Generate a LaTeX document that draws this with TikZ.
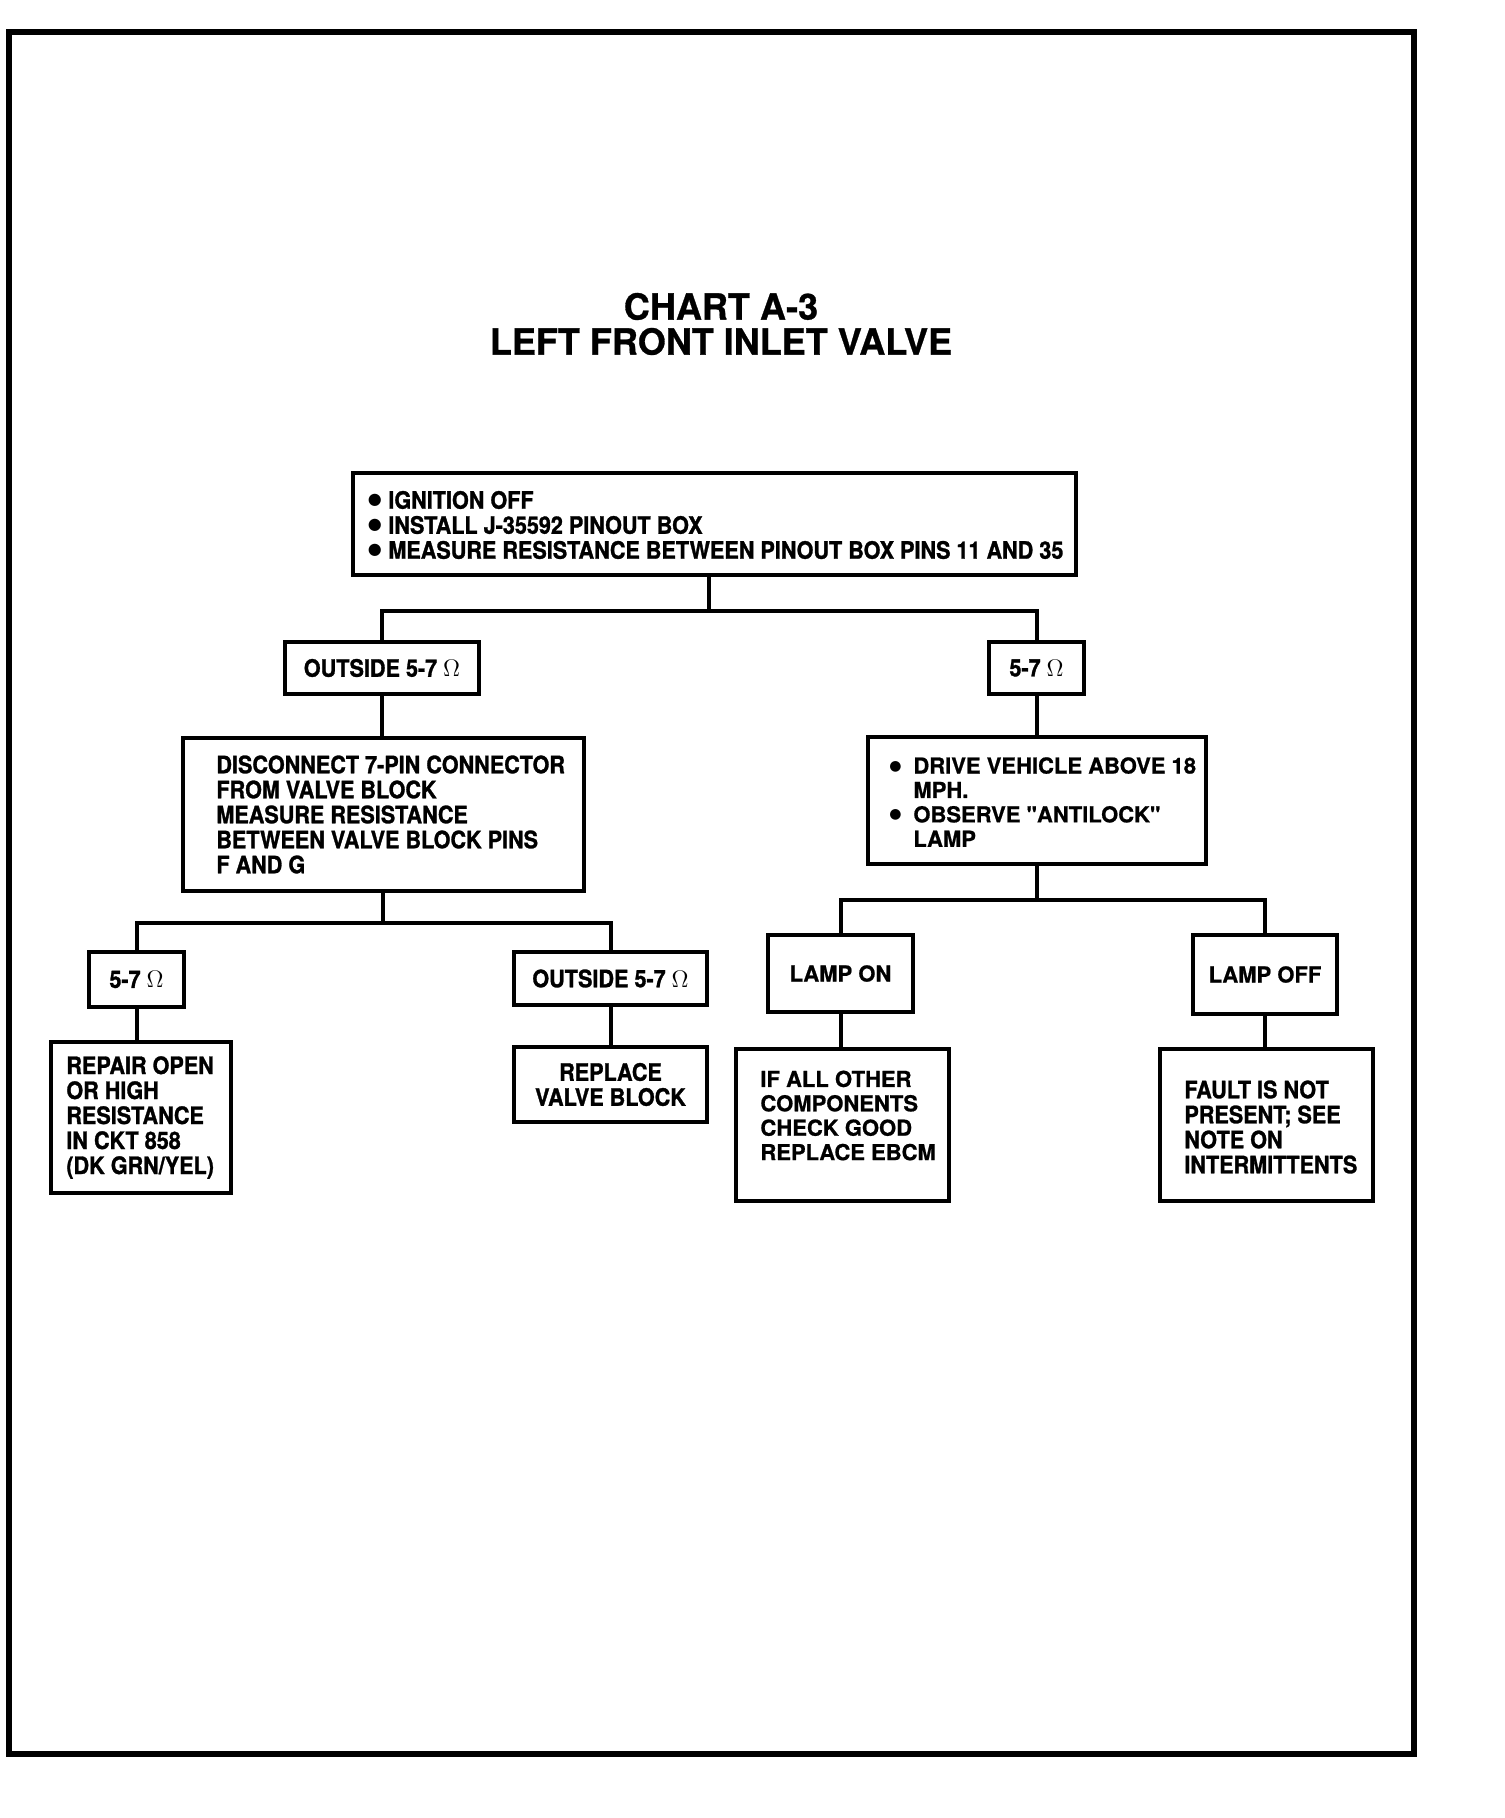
\documentclass[tikz,border=0pt]{standalone}
\usepackage{fontspec}
\setmainfont{TeX Gyre Heros}[BoldFeatures={FakeBold=0.8}]
\newfontfamily\narrowfont{TeX Gyre Heros}[FakeStretch=0.9, BoldFeatures={FakeBold=1.2}]
\newfontfamily\dotfont{DejaVu Sans}
\newcommand\bul{\makebox[9pt][l]{\makebox[4.5pt]{\raisebox{1.9pt}{\dotfont\fontsize{8}{8}\selectfont ●}}}}
\newcommand\wbul{\makebox[11pt][l]{\makebox[4pt]{\raisebox{1.7pt}{\dotfont\fontsize{7}{7}\selectfont ●}}}}
\begin{document}
\begin{tikzpicture}[x=0.5pt, y=-0.5pt, %coordinates in pixels of the page
  box/.style={draw, line width=2pt, inner sep=0pt},
  cond/.style={font=\narrowfont\bfseries\fontsize{12}{12.5}\selectfont},
  wide/.style={font=\bfseries\fontsize{11}{12.2}\selectfont},
  txt/.style={anchor=west, inner sep=0pt, align=left},
  link/.style={line width=2pt}]
\useasboundingbox (0,0) rectangle (1504,1818);
\draw[line width=2.8pt] (9,32) rectangle (1414,1754);
\node[align=center, font=\bfseries\fontsize{18}{17.5}\selectfont] (title) at (721,324) {CHART A-3\\LEFT FRONT INLET VALVE};

% first test
\node[box, minimum width=361.5pt, minimum height=51pt] (meas) at (714.5,524) {};
\node[txt, cond] (measT) at (370,525) {\bul IGNITION OFF\\ \bul INSTALL J-35592 PINOUT BOX\\ \bul MEASURE RESISTANCE BETWEEN PINOUT BOX PINS 11 AND 35};
\node[box, cond, minimum width=97pt, minimum height=26pt] (out1) at (382,668) {OUTSIDE 5-7 $\Omega$};
\node[box, cond, minimum width=47.5pt, minimum height=26pt] (in1) at (1036.5,668) {5-7 $\Omega$};

% left branch
\node[box, minimum width=200.5pt, minimum height=76.5pt] (disc) at (383.5,814.5) {};
\node[txt, cond] (discT) at (216,814.5) {DISCONNECT 7-PIN CONNECTOR\\FROM VALVE BLOCK\\MEASURE RESISTANCE\\BETWEEN VALVE BLOCK PINS\\F AND G};
\node[box, cond, minimum width=47.5pt, minimum height=27.5pt] (in2) at (136.5,979.5) {5-7 $\Omega$};
\node[box, cond, minimum width=96.5pt, minimum height=26.5pt] (out2) at (610.5,978.5) {OUTSIDE 5-7 $\Omega$};
\node[box, minimum width=90pt, minimum height=75.5pt] (repair) at (141,1117.5) {};
\node[txt, cond] (repairT) at (66,1117.5) {REPAIR OPEN\\OR HIGH\\RESISTANCE\\IN CKT 858\\(DK GRN/YEL)};
\node[box, cond, align=center, minimum width=96.5pt, minimum height=37.5pt] (valve) at (610.5,1084.5) {REPLACE\\VALVE BLOCK};

% right branch
\node[box, minimum width=169pt, minimum height=63.5pt] (drive) at (1037,800.5) {};
\node[txt, wide] (driveT) at (891,802) {\wbul DRIVE VEHICLE ABOVE 18\\ \hspace*{11pt}MPH.\\ \wbul OBSERVE \textquotedbl ANTILOCK\textquotedbl\\ \hspace*{11pt}LAMP};
\node[box, wide, minimum width=72.5pt, minimum height=38.5pt] (lampon) at (840.5,973.5) {LAMP ON};
\node[box, wide, minimum width=72pt, minimum height=39.5pt] (lampoff) at (1265,974.5) {LAMP OFF};
\node[box, minimum width=106.5pt, minimum height=76pt] (ebcm) at (842.5,1125) {};
\node[txt, wide] (ebcmT) at (760,1115.5) {IF ALL OTHER\\COMPONENTS\\CHECK GOOD\\REPLACE EBCM};
\node[box, minimum width=106.5pt, minimum height=76pt] (fault) at (1266.5,1125) {};
\node[txt, cond] (faultT) at (1184,1127) {FAULT IS NOT\\PRESENT; SEE\\NOTE ON\\INTERMITTENTS};

% connectors
\coordinate (j1) at (709,611);
\coordinate (j2) at (383,923);
\coordinate (j3) at (1037,900);
\draw[link] (j1) -- (j1 |- meas.south);
\draw[link] (out1.north) |- (j1) -| (in1.north);
\draw[link] (out1.south) -- (out1.south |- disc.north);
\draw[link] (in1.south) -- (in1.south |- drive.north);
\draw[link] (j2) -- (j2 |- disc.south);
\draw[link] (in2.north) |- (j2) -| (out2.north);
\draw[link] (in2.south) -- (in2.south |- repair.north);
\draw[link] (out2.south) -- (out2.south |- valve.north);
\draw[link] (j3) -- (j3 |- drive.south);
\draw[link] (lampon.north) |- (j3) -| (lampoff.north);
\draw[link] (lampon.south) -- (lampon.south |- ebcm.north);
\draw[link] (lampoff.south) -- (lampoff.south |- fault.north);
\end{tikzpicture}
\end{document}
